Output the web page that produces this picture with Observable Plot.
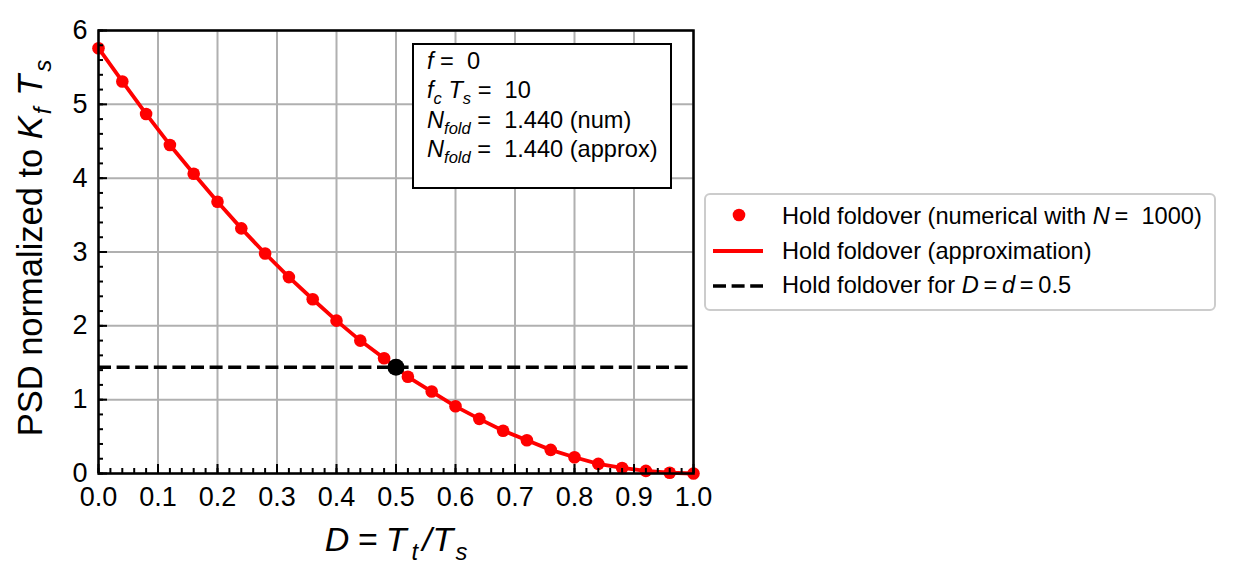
<!DOCTYPE html>
<html><head><meta charset="utf-8">
<script src="https://cdn.jsdelivr.net/npm/d3@7"></script>
<script src="https://cdn.jsdelivr.net/npm/@observablehq/plot@0.6"></script>
<style>
body{margin:0;background:#fff;}
#chart{position:relative;width:1235px;height:583px;}
text{white-space:pre;}
</style>
</head><body><div id="chart"></div>
<script>
// ---- data ----
const dutyNum = [0.00,0.04,0.08,0.12,0.16,0.20,0.24,0.28,0.32,0.36,0.40,0.44,0.48,0.52,0.56,0.60,0.64,0.68,0.72,0.76,0.80,0.84,0.88,0.92,0.96,1.00];
const psdNum  = [5.76,5.31,4.87,4.45,4.06,3.68,3.32,2.98,2.66,2.36,2.07,1.80,1.56,1.31,1.11,0.91,0.74,0.58,0.45,0.32,0.22,0.13,0.075,0.035,0.01,0.0];
const dutyApprox = [0.00,0.04,0.08,0.12,0.16,0.20,0.24,0.28,0.32,0.36,0.40,0.44,0.48,0.50,0.52,0.56,0.60,0.64,0.68,0.72,0.76,0.80,0.84,0.88,0.92,0.96,1.00];
const psdApprox  = [5.76,5.31,4.87,4.45,4.06,3.68,3.32,2.98,2.66,2.36,2.07,1.80,1.56,1.44,1.31,1.11,0.91,0.74,0.58,0.45,0.32,0.22,0.13,0.075,0.035,0.01,0.0];
const holdD = [0.5];
const holdPSD = [1.44];
const xTicks = [0.0,0.1,0.2,0.3,0.4,0.5,0.6,0.7,0.8,0.9,1.0];
const yTicks = [0,1,2,3,4,5,6];
const xMinor = d3.range(0, 1.0001, 0.02);
const yMinor = d3.range(0, 6.0001, 0.2);

const numData = dutyNum.map((d,i)=>({D:d, P:psdNum[i]}));
const approxData = dutyApprox.map((d,i)=>({D:d, P:psdApprox[i]}));
const holdData = holdD.map((d,i)=>({D:d, P:holdPSD[i]}));

const FONT = "'Liberation Sans', Arial, Helvetica, sans-serif";
const grid = {stroke:"#b0b0b0", strokeOpacity:1, strokeWidth:2};

const svg = Plot.plot({
  width:1235, height:583,
  marginLeft:98, marginRight:542, marginTop:30, marginBottom:110,
  style:{fontFamily:FONT, fontSize:"27px", color:"black", background:"white", overflow:"visible"},
  x:{domain:[0,1]},
  y:{domain:[0,6]},
  marks:[
    Plot.gridX(xTicks, grid),
    Plot.gridY(yTicks, grid),
    Plot.ruleY(holdPSD, {stroke:"black", strokeWidth:3.6, strokeDasharray:"13,5.6"}),
    Plot.line(approxData, {x:"D", y:"P", stroke:"red", strokeWidth:3.8}),
    Plot.dot(numData, {x:"D", y:"P", r:6.3, fill:"red"}),
    Plot.dot(holdData, {x:"D", y:"P", r:8.5, fill:"black"}),
    Plot.axisX(xMinor, {tickSize:-5, tickFormat:()=>"", strokeWidth:2, label:null}),
    Plot.axisY(yMinor, {tickSize:-5, tickFormat:()=>"", strokeWidth:2, label:null}),
    Plot.axisX(xTicks, {tickSize:-9, tickPadding:22, tickFormat:d3.format(".1f"), strokeWidth:2, label:null, fontSize:27}),
    Plot.axisY(yTicks, {tickSize:-9, tickPadding:20, tickFormat:d3.format("d"), strokeWidth:2, label:null, fontSize:27}),
    Plot.frame({stroke:"black", strokeWidth:2.5})
  ]
});
document.getElementById("chart").appendChild(svg);

// ---- rich text helper (italics / subscripts) ----
function rich(parent, x, y, runs, size, anchor){
  const t = parent.append("text").attr("x",x).attr("y",y)
    .attr("font-family",FONT).attr("font-size",size).attr("fill","black")
    .attr("text-anchor",anchor||"start");
  let shift = 0;
  runs.forEach(r=>{
    const target = r.sub ? size*0.26 : 0;
    const ts = t.append("tspan").text(r.t).attr("dy", target-shift);
    if (r.dx) ts.attr("dx", r.dx);
    shift = target;
    if (r.i) ts.attr("font-style","italic");
    if (r.sub) ts.attr("font-size", size*0.7);
  });
  return t;
}
const S = d3.select(svg);

// y label
const gy = S.append("g").attr("transform","translate(42,248) rotate(-90)");
rich(gy, 0, 0, [{t:"PSD normalized to "},{t:"K",i:1},{t:"f",i:1,sub:1,dx:2},{t:" "},{t:"T",i:1,dx:2},{t:"s",i:1,sub:1,dx:3}], 34.5, "middle");

// x label
rich(S, 396, 551, [{t:"D",i:1},{t:"\u2009=\u2009",dx:2},{t:"T",i:1,dx:1},{t:"t",i:1,sub:1,dx:5},{t:"/",i:1,dx:4},{t:"T",i:1,dx:1},{t:"s",i:1,sub:1,dx:2}], 34, "middle");

// annotation box
S.append("rect").attr("x",413).attr("y",44).attr("width",258).attr("height",144)
  .attr("fill","white").attr("stroke","black").attr("stroke-width",2);
const ax = 427, FS = 23.6;
rich(S, ax, 69, [{t:"f",i:1},{t:" =  0"}], FS);
rich(S, ax, 98, [{t:"f",i:1},{t:"c",i:1,sub:1},{t:" "},{t:"T",i:1},{t:"s",i:1,sub:1},{t:" =  10"}], FS);
rich(S, ax, 127.5, [{t:"N",i:1},{t:"fold",i:1,sub:1},{t:" =  1.440 (num)"}], FS);
rich(S, ax, 156.5, [{t:"N",i:1},{t:"fold",i:1,sub:1},{t:" =  1.440 (approx)"}], FS);

// legend
S.append("rect").attr("x",705).attr("y",194).attr("width",510).attr("height",116).attr("rx",5)
  .attr("fill","white").attr("stroke","#cccccc").attr("stroke-width",2);
S.append("circle").attr("cx",739).attr("cy",215).attr("r",6.3).attr("fill","red");
S.append("line").attr("x1",713).attr("x2",763).attr("y1",251).attr("y2",251).attr("stroke","red").attr("stroke-width",3.8);
S.append("line").attr("x1",713).attr("x2",763).attr("y1",286).attr("y2",286).attr("stroke","black").attr("stroke-width",3.6).attr("stroke-dasharray","13,5.6");
rich(S, 782, 224, [{t:"Hold foldover (numerical with "},{t:"N",i:1},{t:"\u2009=  1000)"}], FS);
rich(S, 782, 259, [{t:"Hold foldover (approximation)"}], FS);
rich(S, 782, 293, [{t:"Hold foldover for "},{t:"D",i:1},{t:"\u2009=\u2009"},{t:"d",i:1},{t:"\u2009=\u20090.5"}], FS);
</script>
</body></html>
